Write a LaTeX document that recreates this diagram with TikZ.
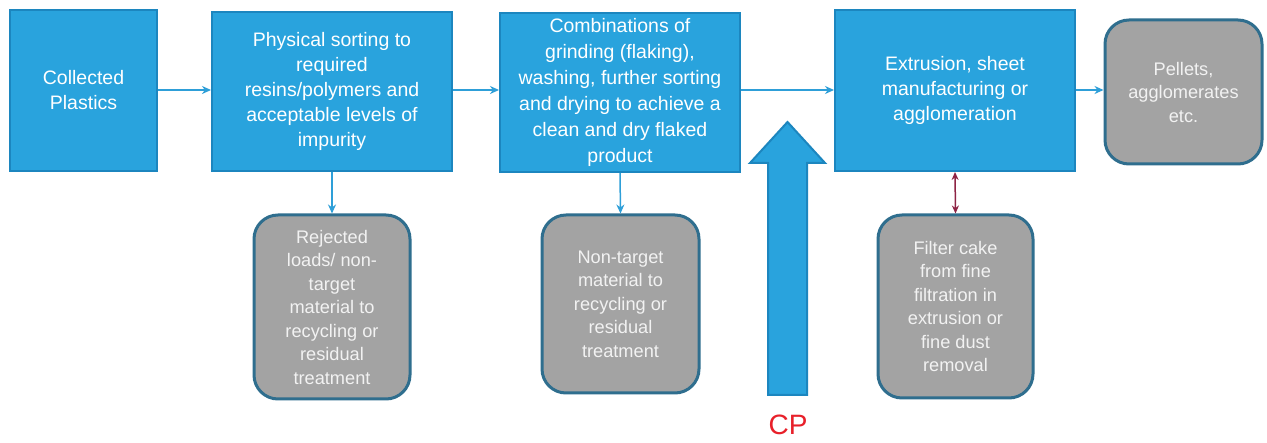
\documentclass[tikz,border=0pt]{standalone}
\usepackage{fontspec}
\setmainfont{Liberation Sans}
\usetikzlibrary{arrows.meta}
\definecolor{bfill}{HTML}{29A3DD}
\definecolor{bdraw}{HTML}{1C86BF}
\definecolor{gfill}{HTML}{A3A3A3}
\definecolor{gdraw}{HTML}{2F6E8E}
\definecolor{gtext}{HTML}{F2F2F2}
\definecolor{arrblue}{HTML}{2E9FD8}
\definecolor{darkred}{HTML}{8E2445}
\definecolor{cpred}{HTML}{E8202A}
\tikzset{
  bluebox/.style={draw=bdraw, line width=2pt, fill=bfill, text=white, align=center, inner sep=0pt,
    font=\fontsize{19.5}{25}\selectfont},
  graybox/.style={draw=gdraw, line width=3pt, fill=gfill, text=gtext, align=center, inner sep=0pt,
    rounded corners=24pt, font=\fontsize{18.2}{23.5}\selectfont},
  flow/.style={draw=arrblue, line width=1.5pt, -{Stealth[length=9pt,width=8pt]}},
  dflow/.style={draw=darkred, line width=1.5pt, {Stealth[length=8pt,width=7pt]}-{Stealth[length=8pt,width=7pt]}},
}
\begin{document}
\begin{tikzpicture}[x=1pt,y=-1pt]
\useasboundingbox (0,0) rectangle (1267,443);
\fill[white] (0,0) rectangle (1267,443);
% main process boxes
\node[bluebox, minimum width=147pt, minimum height=161pt] (b1) at (83.5,90.5) {Collected\\Plastics};
\node[bluebox, minimum width=240pt, minimum height=159pt] (b2) at (332,91.5) {Physical sorting to\\required\\resins/polymers and\\acceptable levels of\\impurity};
\node[bluebox, minimum width=240pt, minimum height=159pt, font=\fontsize{19.5}{26}\selectfont] (b3) at (620,92.5) {Combinations of\\grinding (flaking),\\washing, further sorting\\and drying to achieve a\\clean and dry flaked\\product};
\node[bluebox, minimum width=240pt, minimum height=161pt] (b4) at (955,90.5) {Extrusion, sheet\\manufacturing or\\agglomeration};
\node[graybox, minimum width=157pt, minimum height=144pt] (b5) at (1183.5,92) {Pellets,\\agglomerates\\etc.};
% side boxes
\node[graybox, minimum width=156pt, minimum height=184pt] (r1) at (332,307) {Rejected\\loads/ non-\\target\\material to\\recycling or\\residual\\treatment};
\node[graybox, minimum width=157pt, minimum height=178pt] (r2) at (620.5,304) {Non-target\\material to\\recycling or\\residual\\treatment};
\node[graybox, minimum width=155pt, minimum height=183pt] (r3) at (955.5,306.5) {Filter cake\\from fine\\filtration in\\extrusion or\\fine dust\\removal};
% flow connectors
\draw[flow] (b1.east |- 0,90) -- (b2.west |- 0,90);
\draw[flow] (b2.east |- 0,90) -- (b3.west |- 0,90);
\draw[flow] (b3.east |- 0,90) -- (b4.west |- 0,90);
\draw[flow] (b4.east |- 0,90) -- (b5.west |- 0,90);
\draw[flow] (b2.south) -- (r1.north);
\draw[flow] (b3.south) -- (r2.north);
\draw[dflow] (b4.south) -- (r3.north);
% CP arrow
\draw[draw=bdraw, line width=2pt, fill=bfill, line join=miter]
  (768,395) -- (768,163) -- (750,163) -- (787.5,122) -- (825,163) -- (807,163) -- (807,395) -- cycle;
\node[text=cpred, font=\fontsize{28}{30}\selectfont] (cp) at (788,425) {CP};
\end{tikzpicture}
\end{document}
